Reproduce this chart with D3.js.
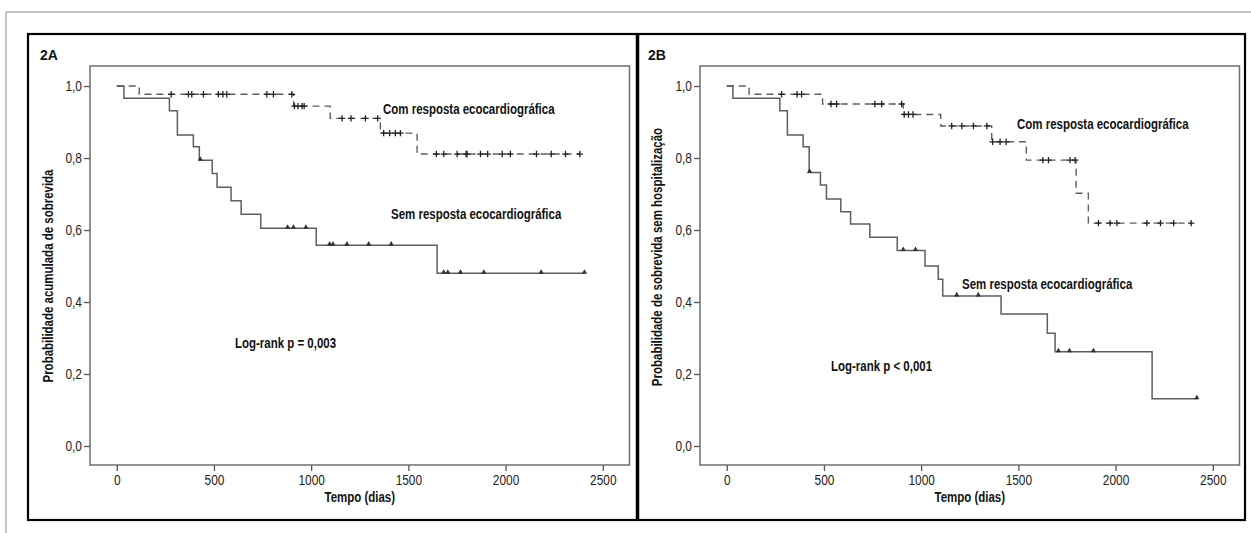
<!DOCTYPE html>
<html>
<head>
<meta charset="utf-8">
<script src="https://cdn.jsdelivr.net/npm/d3@7"></script>
<style>
  body { margin: 0; background: #fff; }
  svg text { font-family: 'Liberation Sans', Arial, sans-serif; fill: #111; }
  .bold { font-weight: bold; font-size: 14px; }
  .tick text { font-size: 14px; fill: #222; }
</style>
</head>
<body>
<div class="chart"></div>
<script>
var xTicks = [0, 500, 1000, 1500, 2000, 2500];
var yTicks = [0, 0.2, 0.4, 0.6, 0.8, 1.0];

// 2A - sobrevida
var aRespTimes = [116, 910, 1098, 1356, 1545];
var aRespSurv = [0.977, 0.944, 0.910, 0.869, 0.811];
var aRespCensor = [280, 369, 386, 446, 523, 546, 566, 772, 806, 901, 914, 932, 953, 964, 1159, 1205, 1279, 1342,
  1373, 1404, 1433, 1459, 1644, 1682, 1751, 1797, 1802, 1871, 1908, 1983, 2025, 2159, 2235, 2308, 2382];
var aNonTimes = [37, 271, 312, 394, 425, 491, 516, 588, 640, 741, 1026, 1648];
var aNonSurv = [0.966, 0.931, 0.864, 0.831, 0.794, 0.757, 0.719, 0.681, 0.644, 0.605, 0.558, 0.480];
var aNonCensor = [430, 879, 909, 973, 1095, 1112, 1184, 1296, 1412, 1682, 1703, 1768, 1888, 2183, 2406];

// 2B - sobrevida sem hospitalizacao
var bRespTimes = [115, 493, 908, 1101, 1363, 1541, 1797, 1860];
var bRespSurv = [0.977, 0.950, 0.921, 0.889, 0.845, 0.794, 0.702, 0.619];
var bRespCensor = [282, 362, 385, 536, 565, 762, 797, 900, 913, 935, 958, 1157, 1209, 1269, 1338, 1368, 1406, 1437,
  1626, 1655, 1766, 1792, 1912, 1972, 2007, 2161, 2231, 2299, 2389];
var bNonTimes = [32, 273, 312, 393, 424, 482, 513, 587, 637, 736, 877, 1020, 1088, 1111, 1411, 1649, 1689, 2188];
var bNonSurv = [0.966, 0.931, 0.864, 0.831, 0.760, 0.725, 0.686, 0.651, 0.617, 0.580, 0.543, 0.500, 0.463, 0.417,
  0.367, 0.313, 0.262, 0.131];
var bNonCensor = [426, 908, 971, 1183, 1294, 1706, 1763, 1886, 2418];

var narrow = 0.82; // Arial Narrow look from Liberation Sans
var tickNarrow = 0.85;

var svg = d3.select('.chart')
  .append("svg")
  .attr("width", 1251)
  .attr("height", 533);

// outer gray border
svg.append("path")
  .attr("d", "M6,533 V12 H1251")
  .attr("fill", "none")
  .attr("stroke", "#8a8a8a")
  .attr("stroke-width", 1);

function stepPoints(times, surv, censor) {
  var pts = [[0, 1]];
  times.forEach(function(t, i) { pts.push([t, surv[i]]); });
  var end = Math.max(d3.max(times), d3.max(censor));
  pts.push([end, surv[surv.length - 1]]);
  return pts;
}

function survAt(times, surv, t) {
  var s = 1;
  times.forEach(function(tt, i) { if (tt <= t) s = surv[i]; });
  return s;
}

function narrowText(g, x, y, str, rotate, anchor) {
  return g.append("text")
    .attr("class", "bold")
    .attr("transform", "translate(" + x + "," + y + ")" + (rotate ? " rotate(-90)" : "") + " scale(" + narrow + ",1)")
    .attr("text-anchor", anchor || "start")
    .text(str);
}

function drawPanel(opts) {
  var left = opts.left, right = opts.left + 539.5, top = 66, bottom = 465;

  var xScale = d3.scaleLinear().domain([-137.5, 2637.5]).range([left, right]);
  var yScale = d3.scaleLinear().domain([-0.0528, 1.0556]).range([bottom, top]);

  var g = svg.append("g");

  var fmt = function(d) { return d3.format(".1f")(d).replace(".", ","); };

  var xAxis = d3.axisBottom(xScale).tickValues(xTicks).tickSize(6).tickPadding(4).tickFormat(d3.format("d"));
  var yAxis = d3.axisLeft(yScale).tickValues(yTicks).tickSize(6).tickPadding(2).tickFormat(fmt);

  g.append("g")
    .attr("class", "x axis")
    .attr("transform", "translate(0," + bottom + ")")
    .call(xAxis)
    .selectAll("text")
    .attr("dy", "0.68em")
    .attr("transform", "scale(" + tickNarrow + ",1)");
  g.append("g")
    .attr("class", "y axis")
    .attr("transform", "translate(" + left + ",0)")
    .call(yAxis)
    .selectAll("text")
    .attr("x", -8 / tickNarrow)
    .attr("transform", "scale(" + tickNarrow + ",1)");
  g.selectAll(".axis .domain").remove();
  g.selectAll(".axis line").attr("stroke", "#555").attr("stroke-width", 1.3);

  // plot frame
  g.append("rect")
    .attr("x", left)
    .attr("y", top)
    .attr("width", right - left)
    .attr("height", bottom - top)
    .attr("fill", "none")
    .attr("stroke", "#6e6e6e")
    .attr("stroke-width", 1.5);

  var line = d3.line()
    .x(function(d) { return xScale(d[0]); })
    .y(function(d) { return yScale(d[1]); })
    .curve(d3.curveStepAfter);

  // sem resposta - solid
  g.append("path")
    .datum(stepPoints(opts.nonTimes, opts.nonSurv, opts.nonCensor))
    .attr("d", line)
    .attr("fill", "none")
    .attr("stroke", "#5e5e5e")
    .attr("stroke-width", 1.5);

  // com resposta - dashed
  g.append("path")
    .datum(stepPoints(opts.respTimes, opts.respSurv, opts.respCensor))
    .attr("d", line)
    .attr("fill", "none")
    .attr("stroke", "#5e5e5e")
    .attr("stroke-width", 1.4)
    .attr("stroke-dasharray", "7,5");

  // censored marks
  g.selectAll(".plus")
    .data(opts.respCensor)
    .enter()
    .append("path")
    .attr("class", "plus")
    .attr("d", function(d) {
      var x = xScale(d), y = yScale(survAt(opts.respTimes, opts.respSurv, d));
      return "M" + (x - 3.2) + "," + y + "H" + (x + 3.2) + "M" + x + "," + (y - 3.2) + "V" + (y + 3.2);
    })
    .attr("stroke", "#222")
    .attr("stroke-width", 1.3);

  g.selectAll(".tri")
    .data(opts.nonCensor)
    .enter()
    .append("path")
    .attr("class", "tri")
    .attr("d", d3.symbol().type(d3.symbolTriangle).size(12))
    .attr("transform", function(d) {
      return "translate(" + xScale(d) + "," + (yScale(survAt(opts.nonTimes, opts.nonSurv, d)) - 1) + ")";
    })
    .attr("fill", "#333");

  // labels
  g.append("text")
    .attr("class", "bold")
    .attr("x", opts.tagX)
    .attr("y", 60)
    .text(opts.tag);

  narrowText(g, (left + right) / 2, 502, "Tempo (dias)", false, "middle");

  // text label for the y axis
  narrowText(g, opts.yLabelX, opts.yLabelY, opts.yLabel, true, "middle");

  opts.notes.forEach(function(n) {
    narrowText(g, n[0], n[1], n[2]);
  });
}

drawPanel({
  left: 90, tag: "2A", tagX: 40,
  yLabel: "Probabilidade acumulada de sobrevida", yLabelX: 53, yLabelY: 276,
  respTimes: aRespTimes, respSurv: aRespSurv, respCensor: aRespCensor,
  nonTimes: aNonTimes, nonSurv: aNonSurv, nonCensor: aNonCensor,
  notes: [[383, 114, "Com resposta ecocardiográfica"], [391, 219, "Sem resposta ecocardiográfica"], [235, 348, "Log-rank p = 0,003"]]
});

drawPanel({
  left: 700, tag: "2B", tagX: 648,
  yLabel: "Probabilidade de sobrevida sem hospitalização", yLabelX: 662, yLabelY: 257,
  respTimes: bRespTimes, respSurv: bRespSurv, respCensor: bRespCensor,
  nonTimes: bNonTimes, nonSurv: bNonSurv, nonCensor: bNonCensor,
  notes: [[1017, 129, "Com resposta ecocardiográfica"], [962, 289, "Sem resposta ecocardiográfica"], [831, 371, "Log-rank p < 0,001"]]
});

// panel frames
svg.append("rect")
  .attr("x", 28).attr("y", 34).attr("width", 1217).attr("height", 486)
  .attr("fill", "none").attr("stroke", "#000").attr("stroke-width", 2.2);
svg.append("line")
  .attr("x1", 637.5).attr("x2", 637.5).attr("y1", 34).attr("y2", 520)
  .attr("stroke", "#000").attr("stroke-width", 3.5);
</script>
</body>
</html>
